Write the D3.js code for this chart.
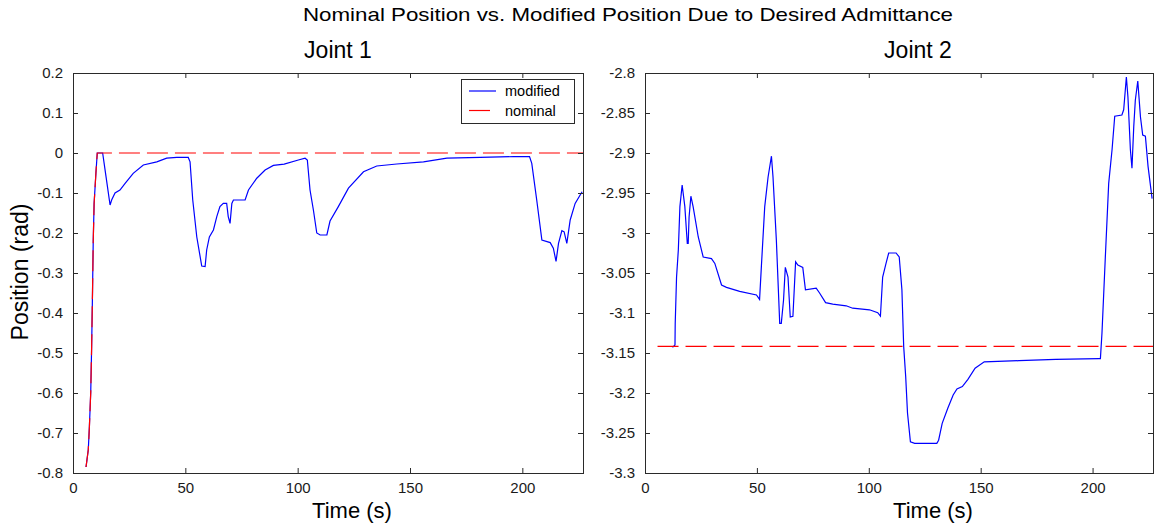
<!DOCTYPE html>
<html>
<head>
<meta charset="utf-8">
<script src="https://cdn.jsdelivr.net/npm/d3@7"></script>
<style>
  html, body { margin: 0; padding: 0; background: #fff; }
  svg { display: block; font-family: Arial, "Liberation Sans", Helvetica, sans-serif; }
</style>
</head>
<body>
<svg id="chart" width="1155" height="529"></svg>
<script>
// Time axis (seconds)
const timeTicks = [0, 50, 100, 150, 200];
const timeMax = 227;

// Joint 1 position ticks (rad)
const joint1Ticks = [0.2, 0.1, 0, -0.1, -0.2, -0.3, -0.4, -0.5, -0.6, -0.7, -0.8];
// Joint 2 position ticks (rad)
const joint2Ticks = [-2.8, -2.85, -2.9, -2.95, -3, -3.05, -3.1, -3.15, -3.2, -3.25, -3.3];

// Joint 1: nominal trajectory [time, position]
const joint1Nominal = [
  [5.8, -0.785], [6.8, -0.742], [7.3, -0.684], [7.9, -0.597], [8.3, -0.484],
  [8.7, -0.343], [9.0, -0.222], [9.4, -0.126], [10.2, -0.05], [10.8, 0], [227, 0]
];

// Joint 1: position modified by the admittance controller
const joint1Modified = [
  [5.8, -0.785], [6.8, -0.742], [7.3, -0.684], [7.9, -0.597], [8.3, -0.484],
  [8.7, -0.343], [9.0, -0.222], [9.4, -0.126], [10.2, -0.05], [10.8, 0],
  [13.2, 0], [14.7, -0.059], [16.5, -0.13], [17.2, -0.1175], [18.7, -0.10],
  [20.9, -0.0925], [23.2, -0.076], [26.8, -0.051], [31.3, -0.03], [37.3, -0.022],
  [41.7, -0.013], [46.2, -0.011], [51.3, -0.011], [52.1, -0.022], [53.3, -0.1175],
  [55.1, -0.21], [57.3, -0.2825], [58.8, -0.284], [59.5, -0.2425], [60.7, -0.21],
  [62.5, -0.1925], [64.0, -0.159], [65.4, -0.134], [66.9, -0.126], [68.4, -0.126],
  [69.1, -0.159], [69.9, -0.176], [70.7, -0.126], [71.4, -0.1175], [76.6, -0.1175],
  [78.1, -0.0925], [81.8, -0.063], [85.5, -0.0425], [89.2, -0.031], [94.0, -0.028],
  [100.3, -0.0175], [103.3, -0.013], [104.3, -0.0175], [105.5, -0.0925], [107.0, -0.1425],
  [108.5, -0.2], [110.0, -0.205], [113.0, -0.205], [114.4, -0.17], [118.1, -0.134],
  [122.6, -0.088], [129.3, -0.047], [135.2, -0.0325], [144.1, -0.0275], [156.0, -0.022],
  [166.4, -0.013], [181.2, -0.011], [196.0, -0.009], [203.2, -0.009], [204.2, -0.026],
  [206.4, -0.1175], [208.7, -0.2175], [212.4, -0.224], [213.8, -0.238], [215.0, -0.271],
  [216.1, -0.226], [217.6, -0.194], [218.6, -0.197], [219.8, -0.226], [221.3, -0.1675],
  [223.5, -0.126], [226.6, -0.097]
];

// Joint 2: nominal trajectory [time, position]
const joint2Nominal = [[5.6, -3.1416], [227, -3.1416]];

// Joint 2: position modified by the admittance controller
const joint2Modified = [
  [12.3, -3.143], [13.4, -3.14], [13.5, -3.113], [14.1, -3.055], [14.9, -3.021],
  [15.6, -2.967], [16.6, -2.94], [17.8, -2.967], [18.9, -3.013], [19.3, -3.013],
  [19.7, -2.98], [20.5, -2.954], [21.5, -2.967], [23.8, -3.005], [26.0, -3.03],
  [29.7, -3.032], [31.2, -3.038], [34.2, -3.065], [36.4, -3.068], [42.3, -3.073],
  [49.8, -3.0775], [51.2, -3.083], [52.0, -3.042], [53.5, -2.967], [55.0, -2.93],
  [56.5, -2.904], [57.2, -2.93], [58.7, -3.009], [60.2, -3.113], [60.9, -3.113],
  [61.9, -3.084], [62.7, -3.043], [63.9, -3.055], [64.9, -3.105], [66.1, -3.104],
  [67.3, -3.036], [68.3, -3.04], [70.5, -3.043], [71.7, -3.071], [76.5, -3.069],
  [78.0, -3.075], [80.7, -3.087], [83.9, -3.089], [89.9, -3.091], [92.8, -3.094],
  [100.3, -3.096], [104.0, -3.0996], [105.2, -3.104], [106.2, -3.055], [107.7, -3.038],
  [108.9, -3.025], [112.2, -3.025], [113.6, -3.03], [114.8, -3.071], [115.6, -3.142],
  [116.5, -3.18], [117.3, -3.225], [118.6, -3.261], [120.5, -3.263], [130.4, -3.263],
  [131.2, -3.259], [132.8, -3.238], [135.3, -3.219], [137.7, -3.2025], [139.4, -3.195],
  [141.8, -3.192], [144.3, -3.183], [147.5, -3.169], [151.6, -3.161], [167.1, -3.1596],
  [183.5, -3.158], [202.8, -3.157], [203.5, -3.157], [204.2, -3.125], [205.7, -3.03],
  [207.2, -2.938], [208.7, -2.896], [209.9, -2.854], [213.1, -2.8525], [213.9, -2.846],
  [215.1, -2.805], [215.8, -2.83], [216.9, -2.896], [217.6, -2.919], [218.4, -2.867],
  [219.1, -2.834], [220.2, -2.81], [221.4, -2.855], [222.4, -2.8775], [223.6, -2.879],
  [224.8, -2.917], [226.6, -2.957]
];

const legendLabels = ["modified", "nominal"];
const seriesColors = { modified: "#0000ff", nominal: "#ff0000" };
const nominalDash = "21,7";

const svg = d3.select("#chart");

// Figure title
svg.append("text")
  .attr("x", 628).attr("y", 21)
  .attr("text-anchor", "middle")
  .attr("font-size", 19)
  .attr("textLength", 650)
  .attr("lengthAdjust", "spacingAndGlyphs")
  .attr("fill", "#000")
  .text("Nominal Position vs. Modified Position Due to Desired Admittance");

const fmt = d => String(+d.toFixed(2));

function drawPanel(cfg) {
  const { left, right, top, bottom, yDomain, yTicks, modified, nominal, title, titleX, xLabelX, id } = cfg;
  const x = d3.scaleLinear().domain([0, timeMax]).range([left, right]);
  const y = d3.scaleLinear().domain(yDomain).range([bottom, top]);
  const g = svg.append("g");

  g.append("clipPath").attr("id", id)
    .append("rect").attr("x", left).attr("y", top)
    .attr("width", right - left).attr("height", bottom - top);

  const line = d3.line().x(d => x(d[0])).y(d => y(d[1]));

  const plot = g.append("g").attr("clip-path", `url(#${id})`);
  plot.append("path").datum(modified)
    .attr("d", line).attr("fill", "none")
    .attr("stroke", seriesColors.modified).attr("stroke-width", 1.2);
  plot.append("path").datum(nominal)
    .attr("d", line).attr("fill", "none")
    .attr("stroke", seriesColors.nominal).attr("stroke-width", 1.2)
    .attr("stroke-dasharray", nominalDash);

  const axisColor = "#2a2a2a";
  const styleAxis = sel => {
    sel.select(".domain").remove();
    sel.selectAll(".tick line").attr("stroke", axisColor);
    sel.selectAll(".tick text").attr("fill", "#1a1a1a").attr("font-size", 15)
      .attr("font-family", "Arial, 'Liberation Sans', sans-serif");
  };

  g.append("g").attr("transform", `translate(0,${bottom})`)
    .call(d3.axisBottom(x).tickValues(timeTicks).tickFormat(fmt).tickSize(-5).tickPadding(9).tickSizeOuter(0))
    .call(styleAxis);
  g.append("g").attr("transform", `translate(0,${top})`)
    .call(d3.axisTop(x).tickValues(timeTicks).tickFormat("").tickSize(-5).tickSizeOuter(0))
    .call(styleAxis);
  g.append("g").attr("transform", `translate(${left},0)`)
    .call(d3.axisLeft(y).tickValues(yTicks).tickFormat(fmt).tickSize(-5).tickPadding(10).tickSizeOuter(0))
    .call(styleAxis);
  g.append("g").attr("transform", `translate(${right},0)`)
    .call(d3.axisRight(y).tickValues(yTicks).tickFormat("").tickSize(-5).tickSizeOuter(0))
    .call(styleAxis);

  g.append("rect").attr("x", left + 0.5).attr("y", top + 0.5)
    .attr("width", right - left).attr("height", bottom - top)
    .attr("fill", "none").attr("stroke", axisColor).attr("stroke-width", 1);

  g.append("text").attr("x", titleX).attr("y", 58)
    .attr("text-anchor", "middle").attr("font-size", 23).attr("fill", "#000")
    .text(title);

  g.append("text").attr("x", xLabelX).attr("y", 518)
    .attr("text-anchor", "middle").attr("font-size", 22).attr("fill", "#000")
    .text("Time (s)");

  return { x, y, g };
}

drawPanel({
  id: "clip-j1", left: 73, right: 583, top: 73, bottom: 473,
  yDomain: [-0.8, 0.2], yTicks: joint1Ticks,
  modified: joint1Modified, nominal: joint1Nominal,
  title: "Joint 1", titleX: 338, xLabelX: 352
});

drawPanel({
  id: "clip-j2", left: 645, right: 1153, top: 73, bottom: 473,
  yDomain: [-3.3, -2.8], yTicks: joint2Ticks,
  modified: joint2Modified, nominal: joint2Nominal,
  title: "Joint 2", titleX: 918, xLabelX: 933
});

// Y axis label for the left panel
svg.append("text")
  .attr("transform", "translate(28,272) rotate(-90)")
  .attr("text-anchor", "middle").attr("font-size", 23).attr("fill", "#000")
  .text("Position (rad)");

// Legend in the Joint 1 panel
const legend = svg.append("g");
legend.append("rect").attr("x", 461.5).attr("y", 79.5).attr("width", 113).attr("height", 44)
  .attr("fill", "#fff").attr("stroke", "#2a2a2a").attr("stroke-width", 1);
legendLabels.forEach((name, i) => {
  const ly = 91 + i * 19.5;
  legend.append("line").attr("x1", 469).attr("x2", 496).attr("y1", ly).attr("y2", ly)
    .attr("stroke", seriesColors[name]).attr("stroke-width", 1.2)
    .attr("stroke-dasharray", name === "nominal" ? nominalDash : null);
  legend.append("text").attr("x", 505).attr("y", ly + 5)
    .attr("font-size", 14.5).attr("fill", "#000").text(name);
});
</script>
</body>
</html>
